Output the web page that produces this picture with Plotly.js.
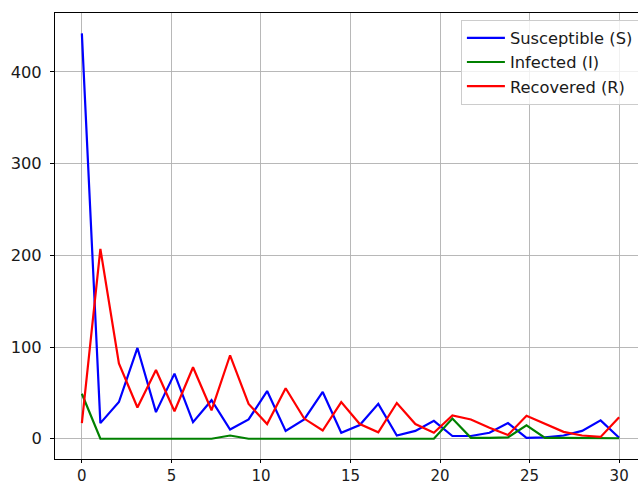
<!DOCTYPE html>
<html>
<head>
<meta charset="utf-8">
<script src="https://cdn.plot.ly/plotly-3.0.1.min.js"></script>
<style>
html, body { margin: 0; padding: 0; overflow: hidden; background: #fff; }
#chart { width: 650px; height: 485px; }
</style>
</head>
<body>
<div id="chart"></div>
<script>
const time = [0, 1.034, 2.069, 3.103, 4.138, 5.172, 6.207, 7.241, 8.276, 9.310,
  10.345, 11.379, 12.414, 13.448, 14.483, 15.517, 16.552, 17.586, 18.621, 19.655,
  20.690, 21.724, 22.759, 23.793, 24.828, 25.862, 26.897, 27.931, 28.966, 30];
const susceptible = [442, 17, 40, 99, 29, 71, 18, 42, 10, 21,
  52, 8.5, 21, 51, 6.5, 15, 38, 3.5, 8.5, 19.5,
  3, 3, 6.5, 17, 1, 1.5, 3.5, 8.5, 20, 1];
const infected = [49, 0, 0, 0, 0, 0, 0, 0, 3.5, 0,
  0, 0, 0, 0, 0, 0, 0, 0, 0, 0,
  22, 1, 1, 1.5, 14.5, 1, 1, 1, 1, 0.5];
const recovered = [17, 207, 82, 34, 75, 30, 78, 31, 91, 38,
  16, 55, 22, 9, 40, 16, 7, 39, 16, 6.5,
  25.5, 21, 12, 4, 25, 16, 7.5, 3.5, 2, 23.5];
const seriesNames = ['Susceptible (S)', 'Infected (I)', 'Recovered (R)'];
const xTicks = [0, 5, 10, 15, 20, 25, 30];
const yTicks = [0, 100, 200, 300, 400];

const colors = ['#0000ff', '#008000', '#ff0000'];
const series = [susceptible, infected, recovered];
const traces = series.map((ys, k) => ({
  x: time, y: ys, type: 'scatter', mode: 'lines', name: seriesNames[k],
  legendgroup: 'g' + k,
  line: { color: colors[k], width: 2.2 }
}));

const font = { family: 'DejaVu Sans', size: 16.3, color: '#1a1a1a' };
const axisCommon = {
  showline: true, mirror: true, linecolor: '#000', linewidth: 1,
  ticks: 'outside', ticklen: 4, tickcolor: '#000', tickwidth: 1,
  showgrid: true, gridcolor: '#b0b0b0', gridwidth: 0.9,
  zeroline: false, tickfont: font, tickmode: 'array'
};

const layout = {
  width: 650, height: 485,
  margin: { l: 55, r: 4, t: 13, b: 26, pad: 0 },
  paper_bgcolor: '#fff', plot_bgcolor: '#fff',
  font: font,
  showlegend: true,
  xaxis: Object.assign({}, axisCommon, { range: [-1.5, 31.5], tickvals: xTicks, ticktext: xTicks.map(String), ticklen: 3, ticklabelstandoff: 0,
    tickfont: { family: 'DejaVu Sans', size: 15, color: '#1a1a1a' } }),
  yaxis: Object.assign({}, axisCommon, { range: [-22.1, 464.2], tickvals: yTicks, ticktext: yTicks.map(String), ticklabelstandoff: 5 }),
  legend: {
    x: 0.988, y: 0.985, xanchor: 'right', yanchor: 'top',
    bgcolor: 'rgba(255,255,255,0.8)', bordercolor: '#cccccc', borderwidth: 1,
    font: { family: 'DejaVu Sans', size: 16.3, color: '#1a1a1a' },
    traceorder: 'grouped', tracegroupgap: 0, itemwidth: 38
  }
};

Plotly.newPlot('chart', traces, layout, { staticPlot: true, displayModeBar: false });
</script>
</body>
</html>
